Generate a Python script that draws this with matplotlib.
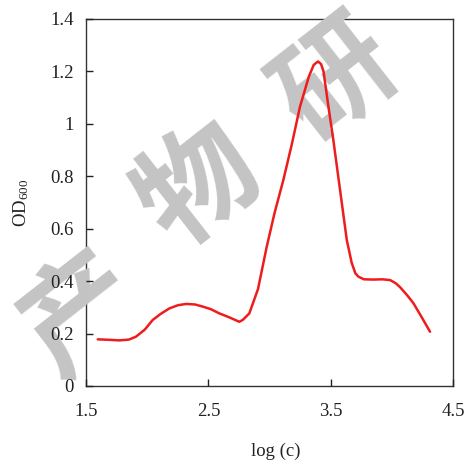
import matplotlib
matplotlib.use("Agg")
import matplotlib.pyplot as plt

plt.rcParams['font.family'] = ['Liberation Serif', 'DejaVu Serif']
plt.rcParams['mathtext.fontset'] = 'custom'
plt.rcParams['mathtext.rm'] = 'Liberation Serif'
plt.rcParams['mathtext.it'] = 'Liberation Serif:italic'

# data
log_c = [1.596, 1.70, 1.772, 1.85, 1.908, 1.98, 2.045, 2.11, 2.181, 2.25,
         2.317, 2.39, 2.453, 2.52, 2.589, 2.67, 2.752, 2.78, 2.834, 2.905,
         2.976, 3.04, 3.112, 3.18, 3.248, 3.32, 3.36, 3.395, 3.42, 3.44,
         3.48, 3.52, 3.575, 3.63, 3.67, 3.70, 3.725, 3.77, 3.847, 3.92,
         3.984, 4.03, 4.065, 4.12, 4.174, 4.24, 4.31]
od600 = [0.178, 0.176, 0.174, 0.177, 0.188, 0.215, 0.252, 0.275, 0.296, 0.308,
         0.313, 0.311, 0.303, 0.293, 0.277, 0.262, 0.245, 0.252, 0.277, 0.370,
         0.531, 0.660, 0.786, 0.920, 1.066, 1.180, 1.225, 1.238, 1.228, 1.200,
         1.066, 0.939, 0.748, 0.557, 0.470, 0.430, 0.417, 0.407, 0.406, 0.407,
         0.404, 0.392, 0.377, 0.348, 0.316, 0.264, 0.207]

x_ticks = [1.5, 2.5, 3.5, 4.5]
x_labels = ['1.5', '2.5', '3.5', '4.5']
y_ticks = [0, 0.2, 0.4, 0.6, 0.8, 1.0, 1.2, 1.4]
y_labels = ['0', '0.2', '0.4', '0.6', '0.8', '1', '1.2', '1.4']

watermark_chars = ['产', '物', '研']

fig = plt.figure(figsize=(4.69, 4.65), dpi=100)
ax = fig.add_axes([86/469, 1 - 386/465, (453.3 - 86)/469, (386 - 19)/465])

ax.plot(log_c, od600, color='#ee1c1c', lw=1.8, zorder=3, solid_capstyle='round')

ax.set_xlim(1.5, 4.5)
ax.set_ylim(0, 1.4)
ax.set_xticks(x_ticks)
ax.set_xticklabels(x_labels)
ax.set_yticks(y_ticks)
ax.set_yticklabels(y_labels)
ax.tick_params(direction='in', length=5, width=1, labelsize=13.5, colors='#222222')
ax.tick_params(axis='x', pad=12)
ax.tick_params(axis='y', pad=9)
for s in ax.spines.values():
    s.set_color('#333333')
    s.set_linewidth(1.0)
    s.set_zorder(2.4)
ax.xaxis.set_zorder(4)
ax.yaxis.set_zorder(4)

ax.set_xlabel('log (c)', fontsize=13.5, color='#222222')
ax.xaxis.set_label_coords(0.517, -0.155)
ax.set_ylabel(r'OD$_{600}$', fontsize=13.5, labelpad=14, color='#222222')

# watermark (behind the curve and labels)
positions = [(82, 316), (200, 188), (338, 82)]
for ch, (px, py) in zip(watermark_chars, positions):
    ax.text(px/469, 1 - py/465, ch, transform=fig.transFigure,
            fontsize=84, family=['Noto Sans CJK SC'], fontweight='bold',
            color='#c4c4c4', rotation=38, ha='center', va='center',
            zorder=2.6, clip_on=False)

fig.savefig('out.png', dpi=100)
